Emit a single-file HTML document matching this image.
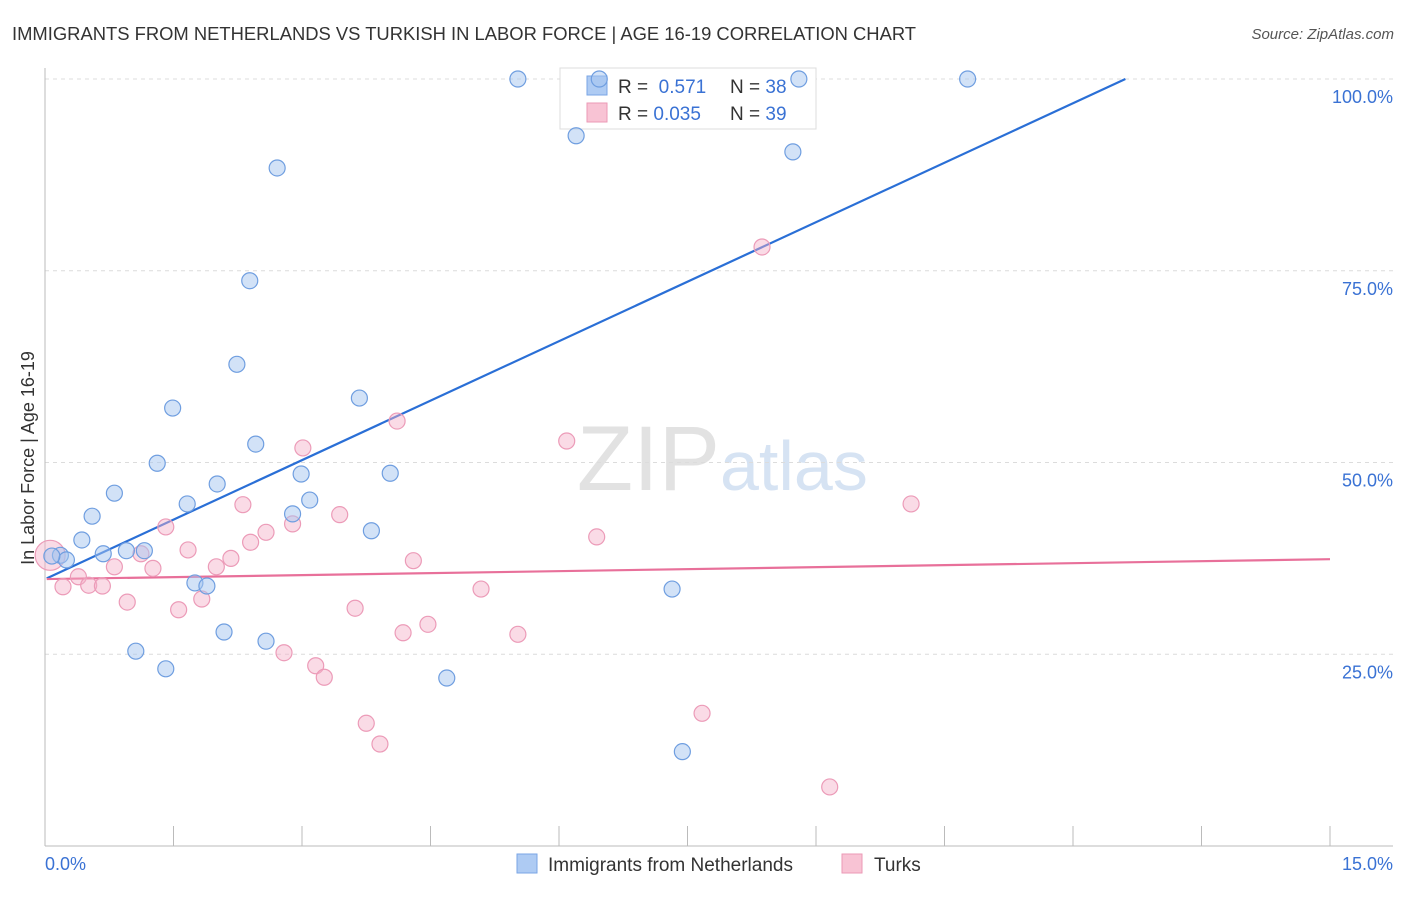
<!DOCTYPE html>
<html><head><meta charset="utf-8"><style>
body{margin:0;background:#fff;font-family:"Liberation Sans",sans-serif;}
svg text{font-family:"Liberation Sans",sans-serif;}
</style></head><body>
<svg id="chart" width="1406" height="892" xmlns="http://www.w3.org/2000/svg">
<text x="12" y="40" font-size="18.4" fill="#333">IMMIGRANTS FROM NETHERLANDS VS TURKISH IN LABOR FORCE | AGE 16-19 CORRELATION CHART</text>
<text x="1394" y="39" font-size="15" fill="#555" font-style="italic" text-anchor="end">Source: ZipAtlas.com</text>
<text x="720" y="490" font-size="92" fill="#e2e2e2" text-anchor="end" font-family="Liberation Serif">ZIP</text>
<text x="720" y="490" font-size="70" fill="#d6e3f3">atlas</text>
<g id="grid"></g>
<g id="axes"></g>
<g>
<rect x="560" y="68" width="256" height="61" fill="#fff" stroke="#ddd"/>
<rect x="587" y="76" width="20" height="19" fill="#aecbf3" stroke="#7aa6e6"/>
<rect x="587" y="103" width="20" height="19" fill="#f8c3d4" stroke="#eb9ab6"/>
<text x="618" y="93" font-size="19" fill="#333">R = <tspan fill="#3a72d4">&#160;0.571</tspan></text>
<text x="730" y="93" font-size="19" fill="#333">N = <tspan fill="#3a72d4">38</tspan></text>
<text x="618" y="120" font-size="19" fill="#333">R = <tspan fill="#3a72d4">0.035</tspan></text>
<text x="730" y="120" font-size="19" fill="#333">N = <tspan fill="#3a72d4">39</tspan></text>
</g>
<g id="lines"></g>
<g id="points"></g>
<text transform="translate(34,458) rotate(-90)" font-size="18" fill="#333" text-anchor="middle">In Labor Force | Age 16-19</text>
<text x="45" y="870" font-size="18" fill="#3a72d4">0.0%</text>
<text x="1393" y="870" font-size="18" fill="#3a72d4" text-anchor="end">15.0%</text>
<g>
<rect x="517" y="854" width="20" height="19" fill="#aecbf3" stroke="#7aa6e6"/>
<text x="548" y="871" font-size="19" fill="#333">Immigrants from Netherlands</text>
<rect x="842" y="854" width="20" height="19" fill="#f8c3d4" stroke="#eb9ab6"/>
<text x="874" y="871" font-size="19" fill="#333">Turks</text>
</g>
</svg>
<script>
const blueX=[5.52,6.47,8.80,10.77,6.20,2.71,8.73,2.39,2.24,1.49,3.67,2.46,1.31,2.99,4.03,0.81,1.66,2.01,3.09,0.55,2.89,0.43,3.81,0.18,0.68,0.95,1.16,0.25,1.75,1.89,7.32,2.09,1.06,2.58,1.41,4.69,7.44,0.08];
const blueY=[100,100,100,100,92.6,88.4,90.5,73.7,62.8,57.1,58.4,52.4,49.9,48.5,48.6,46.0,44.6,47.2,45.1,43.0,43.3,39.9,41.1,37.9,38.1,38.5,38.5,37.3,34.3,33.9,33.5,27.9,25.4,26.7,23.1,21.9,12.3,37.8];
const pinkX=[0.06,0.21,0.39,0.51,0.67,0.81,0.96,1.12,1.26,1.41,1.56,1.67,1.83,2.0,2.17,2.31,2.40,2.58,2.79,2.89,3.01,3.16,3.26,3.44,3.62,3.75,3.91,4.11,4.30,4.18,4.47,5.09,5.52,6.09,6.44,7.67,8.37,9.16,10.11];
const pinkY=[37.9,33.8,35.1,34.0,33.9,36.4,31.8,38.1,36.2,41.6,30.8,38.6,32.2,36.4,37.5,44.5,39.6,40.9,25.2,42.0,51.9,23.5,22.0,43.2,31.0,16.0,13.3,55.4,37.2,27.8,28.9,33.5,27.6,52.8,40.3,17.3,78.1,7.7,44.6];
const yTicks=[25,50,75,100];
const yTickLabels=["25.0%","50.0%","75.0%","100.0%"];
const xTicks=[0,1.5,3,4.5,6,7.5,9,10.5,12,13.5,15];
const blueTrend=[34.9,5.162];
const pinkTrend=[34.8,0.173];
const NS="http://www.w3.org/2000/svg";
const sx=v=>45+v*(1285/15);
const sy=v=>846-v*7.67;
function mk(tag,attrs,parent){const e=document.createElementNS(NS,tag);for(const k in attrs)e.setAttribute(k,attrs[k]);parent.appendChild(e);return e;}
const grid=document.getElementById('grid'),axes=document.getElementById('axes'),lines=document.getElementById('lines'),pts=document.getElementById('points');
yTicks.forEach((t,i)=>{
 const l=mk('line',{x1:45,x2:1393,y1:sy(t),y2:sy(t),stroke:'#dcdcdc','stroke-dasharray':'4,4'},grid);
 
 
 const tx=mk('text',{x:1393,y:sy(t)+24,'font-size':18,fill:'#3a72d4','text-anchor':'end'},grid);
 tx.textContent=yTickLabels[i];
 
 
});
const ax=mk('line',{x1:45,x2:1393,y1:846,y2:846,stroke:'#bbb'},axes);


const ay=mk('line',{x1:45,x2:45,y1:68,y2:846,stroke:'#bbb'},axes);


xTicks.forEach(t=>{
 const l=mk('line',{x1:sx(t),x2:sx(t),y1:826,y2:846,stroke:'#bbb'},axes);
 
 
});
const bl=mk('line',{x1:sx(0.02),y1:sy(blueTrend[0]),x2:sx((100-blueTrend[0])/blueTrend[1]),y2:sy(100),stroke:'#2a6fd6','stroke-width':2.2},lines);


const pl=mk('line',{x1:sx(0.02),y1:sy(pinkTrend[0]),x2:sx(15),y2:sy(pinkTrend[0]+pinkTrend[1]*15),stroke:'#e8709a','stroke-width':2.2},lines);


pinkX.forEach((x,i)=>{
 const c=mk('circle',{cx:sx(x),cy:sy(pinkY[i]),r:i===0?15:8,fill:'rgba(245,175,200,0.45)',stroke:'#ec9bb8','stroke-width':1.2},pts);
 
 
});
blueX.forEach((x,i)=>{
 const c=mk('circle',{cx:sx(x),cy:sy(blueY[i]),r:8,fill:'rgba(165,198,240,0.5)',stroke:'#6f9ee0','stroke-width':1.2},pts);
 
 
});
</script>
</body></html>
